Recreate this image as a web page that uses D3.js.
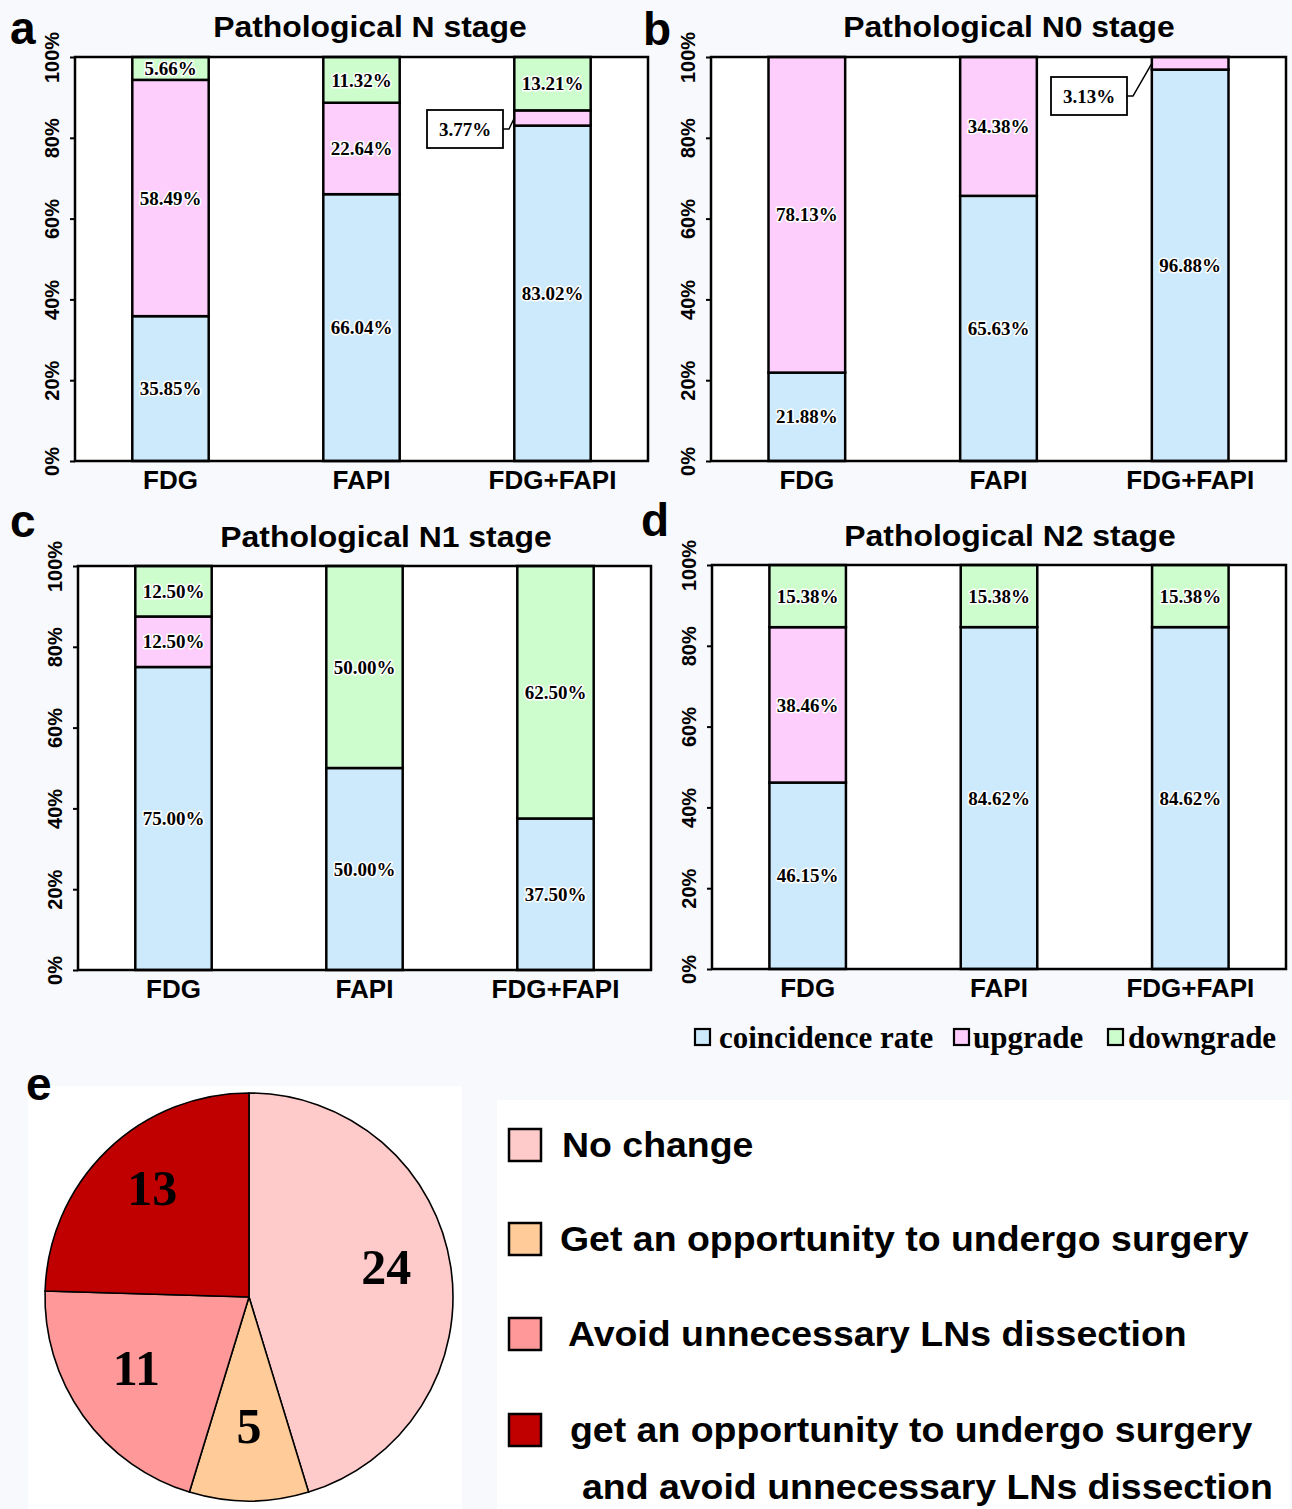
<!DOCTYPE html>
<html><head><meta charset="utf-8">
<script src="https://cdn.jsdelivr.net/npm/d3@7"></script>
<style>
body{margin:0;background:#f8f9fc;}
svg{display:block}
.sans{font-family:"Liberation Sans",Arial,sans-serif;font-weight:bold;}
.serif{font-family:"Liberation Serif","Times New Roman",serif;font-weight:bold;}
</style>
</head><body>
<svg id="fig" width="1292" height="1509"></svg>
<script>
// ---------- DATA ----------
const categories = ["FDG", "FAPI", "FDG+FAPI"];
const seriesNames = ["coincidence rate", "upgrade", "downgrade"];
const seriesColors = ["#cdeafd", "#fdcdfb", "#cdfccd"];
const yTickValues = [0, 20, 40, 60, 80, 100];
const yTickLabels = ["0%", "20%", "40%", "60%", "80%", "100%"];
const panelLetters = ["a", "b", "c", "d"];
const panelTitles = ["Pathological N stage", "Pathological N0 stage", "Pathological N1 stage", "Pathological N2 stage"];

const coincidenceN  = [35.85, 66.04, 83.02];
const upgradeN      = [58.49, 22.64, 3.77];
const downgradeN    = [5.66, 11.32, 13.21];

const coincidenceN0 = [21.88, 65.63, 96.88];
const upgradeN0     = [78.13, 34.38, 3.13];
const downgradeN0   = [0, 0, 0];

const coincidenceN1 = [75.00, 50.00, 37.50];
const upgradeN1     = [12.50, 0, 0];
const downgradeN1   = [12.50, 50.00, 62.50];

const coincidenceN2 = [46.15, 84.62, 84.62];
const upgradeN2     = [38.46, 0, 0];
const downgradeN2   = [15.38, 15.38, 15.38];

const pieLabels = ["No change", "Get an opportunity to undergo surgery", "Avoid unnecessary LNs dissection", "get an opportunity to undergo surgery|and avoid unnecessary LNs dissection"];
const pieValues = [24, 5, 11, 13];
const pieColors = ["#ffcaca", "#ffcc99", "#ff9999", "#c00000"];

// ---------- LAYOUT ----------
const svg = d3.select("#fig");
const panelData = [
  [coincidenceN, upgradeN, downgradeN],
  [coincidenceN0, upgradeN0, downgradeN0],
  [coincidenceN1, upgradeN1, downgradeN1],
  [coincidenceN2, upgradeN2, downgradeN2]
];
const layouts = [
  {x0: 75,  x1: 648,  y0: 57,  y1: 461, tx: 370,  ty: 27,  lx: 10,  ly: 44,  callout: {cat: 2, bx: 427, by: 110, bw: 76, bh: 38}},
  {x0: 711, x1: 1286, y0: 57,  y1: 461, tx: 1009, ty: 27,  lx: 643, ly: 45,  callout: {cat: 2, bx: 1051, by: 77, bw: 76, bh: 38}},
  {x0: 78,  x1: 651,  y0: 566, y1: 970, tx: 386,  ty: 537, lx: 10,  ly: 537, callout: null},
  {x0: 712, x1: 1286, y0: 565, y1: 969, tx: 1010, ty: 536, lx: 641, ly: 536, callout: null}
];

function stretchText(sel, x, y, sx) {
  return sel.attr("x", 0).attr("y", 0).attr("transform", `translate(${x},${y}) scale(${sx},1)`);
}

layouts.forEach((L, pi) => {
  const g = svg.append("g");
  const vals = panelData[pi];
  const x = d3.scaleBand().domain(categories).range([L.x0, L.x1]).paddingInner(0.6).paddingOuter(0.3);
  const y = d3.scaleLinear().domain([0, 100]).range([L.y1, L.y0]);

  g.append("rect").attr("x", L.x0).attr("y", L.y0).attr("width", L.x1 - L.x0).attr("height", L.y1 - L.y0)
    .attr("fill", "#fff");

  const rows = categories.map((c, i) => {
    const o = {cat: c};
    seriesNames.forEach((s, k) => o[s] = vals[k][i]);
    return o;
  });
  const stacked = d3.stack().keys(seriesNames)(rows);
  stacked.forEach((layer, k) => {
    layer.forEach((d, i) => {
      if (d[1] - d[0] <= 0) return;
      g.append("rect")
        .attr("x", x(categories[i])).attr("width", x.bandwidth())
        .attr("y", y(d[1])).attr("height", y(d[0]) - y(d[1]))
        .attr("fill", seriesColors[k]).attr("stroke", "#000").attr("stroke-width", 2.5);
    });
  });
  stacked.forEach((layer, k) => {
    layer.forEach((d, i) => {
      const v = d[1] - d[0];
      if (v <= 0) return;
      const isCallout = L.callout && L.callout.cat === i && k === 1;
      const cx = x(categories[i]) + x.bandwidth() / 2;
      const cy = (y(d[0]) + y(d[1])) / 2;
      const label = v.toFixed(2) + "%";
      if (isCallout) {
        const C = L.callout;
        g.append("polyline")
          .attr("points", [[C.bx + C.bw, C.by + C.bh / 2], [C.bx + C.bw + 6, C.by + C.bh / 2], [x(categories[i]), cy]].map(p => p.join(",")).join(" "))
          .attr("fill", "none").attr("stroke", "#000").attr("stroke-width", 1.5);
        g.append("rect").attr("x", C.bx).attr("y", C.by).attr("width", C.bw).attr("height", C.bh)
          .attr("fill", "#fff").attr("stroke", "#000").attr("stroke-width", 1.8);
        g.append("text").attr("class", "serif").attr("x", C.bx + C.bw / 2).attr("y", C.by + C.bh / 2)
          .attr("dy", "0.35em").attr("text-anchor", "middle").attr("font-size", 19).text(label);
      } else {
        g.append("text").attr("class", "serif").attr("x", cx).attr("y", cy).attr("dy", "0.35em")
          .attr("text-anchor", "middle").attr("font-size", 19)
          .attr("stroke", "#fff").attr("stroke-width", 3).attr("paint-order", "stroke").attr("stroke-linejoin", "round")
          .text(label);
      }
    });
  });

  g.append("rect").attr("x", L.x0).attr("y", L.y0).attr("width", L.x1 - L.x0).attr("height", L.y1 - L.y0)
    .attr("fill", "none").attr("stroke", "#000").attr("stroke-width", 2.5);

  const yAxis = g.append("g").attr("transform", `translate(${L.x0},0)`)
    .call(d3.axisLeft(y).tickValues(yTickValues).tickSize(5).tickFormat((d, i) => yTickLabels[i]));
  yAxis.select(".domain").remove();
  yAxis.selectAll(".tick line").attr("stroke", "#000").attr("stroke-width", 2);
  yAxis.selectAll(".tick text")
    .attr("class", "sans").attr("font-size", 20).attr("fill", "#000")
    .attr("x", 0).attr("y", 0).attr("dy", "0.35em")
    .attr("text-anchor", "middle")
    .attr("transform", "translate(-23,0) rotate(-90)");

  const xAxis = g.append("g").attr("transform", `translate(0,${L.y1})`)
    .call(d3.axisBottom(x).tickSize(0));
  xAxis.select(".domain").remove();
  xAxis.selectAll(".tick text").attr("class", "sans").attr("font-size", 26).attr("fill", "#000")
    .attr("y", 0).attr("dy", "1.08em");

  stretchText(g.append("text").attr("class", "sans").attr("dy", "0.35em")
    .attr("text-anchor", "middle").attr("font-size", 29).text(panelTitles[pi]), L.tx, L.ty, 1.1);
  g.append("text").attr("class", "sans").attr("x", L.lx).attr("y", L.ly)
    .attr("font-size", 46).text(panelLetters[pi]);
});

// bar legend
const legX = [695, 954, 1108];
const legTX = [719, 973, 1128];
const lg = svg.append("g");
seriesNames.forEach((s, k) => {
  lg.append("rect").attr("x", legX[k]).attr("y", 1029).attr("width", 15).attr("height", 16)
    .attr("fill", seriesColors[k]).attr("stroke", "#000").attr("stroke-width", 2.2);
  lg.append("text").attr("class", "serif").attr("x", legTX[k]).attr("y", 1048)
    .attr("font-size", 31).text(s);
});

// ---------- PIE ----------
svg.append("rect").attr("x", 28).attr("y", 1086).attr("width", 434).attr("height", 423).attr("fill", "#fff");
svg.append("rect").attr("x", 497).attr("y", 1100).attr("width", 793).attr("height", 409).attr("fill", "#fff");
svg.append("text").attr("class", "sans").attr("x", 26).attr("y", 1100).attr("font-size", 46).text("e");

const R = 204;
const pieG = svg.append("g").attr("transform", "translate(249,1297)");
const pie = d3.pie().sort(null).value(d => d);
const arcs = pie(pieValues);
const arc = d3.arc().innerRadius(0).outerRadius(R);
const labelArc = d3.arc().innerRadius(R * 0.68).outerRadius(R * 0.68);
pieG.selectAll("path").data(arcs).join("path")
  .attr("d", arc).attr("fill", (d, i) => pieColors[i]).attr("stroke", "#000").attr("stroke-width", 1.6);
pieG.selectAll("text").data(arcs).join("text")
  .attr("class", "serif").attr("font-size", 50).attr("text-anchor", "middle").attr("dy", "0.15em")
  .attr("transform", d => `translate(${labelArc.centroid(d)})`)
  .text(d => d.value);

// pie legend
const pl = svg.append("g");
const legRowY = [1145, 1239, 1334, 1430];
const legTextX = [562, 560, 568, 570];
pieLabels.forEach((lab, i) => {
  pl.append("rect").attr("x", 509).attr("y", legRowY[i] - 16).attr("width", 32).attr("height", 32)
    .attr("fill", pieColors[i]).attr("stroke", "#000").attr("stroke-width", 2.5);
  const lines = lab.split("|");
  lines.forEach((ln, j) => {
    stretchText(pl.append("text").attr("class", "sans").attr("dy", "0.35em").attr("font-size", 35).text(ln),
      legTextX[i] + j * 12, legRowY[i] + j * 57, 1.07);
  });
});
</script>
</body></html>
